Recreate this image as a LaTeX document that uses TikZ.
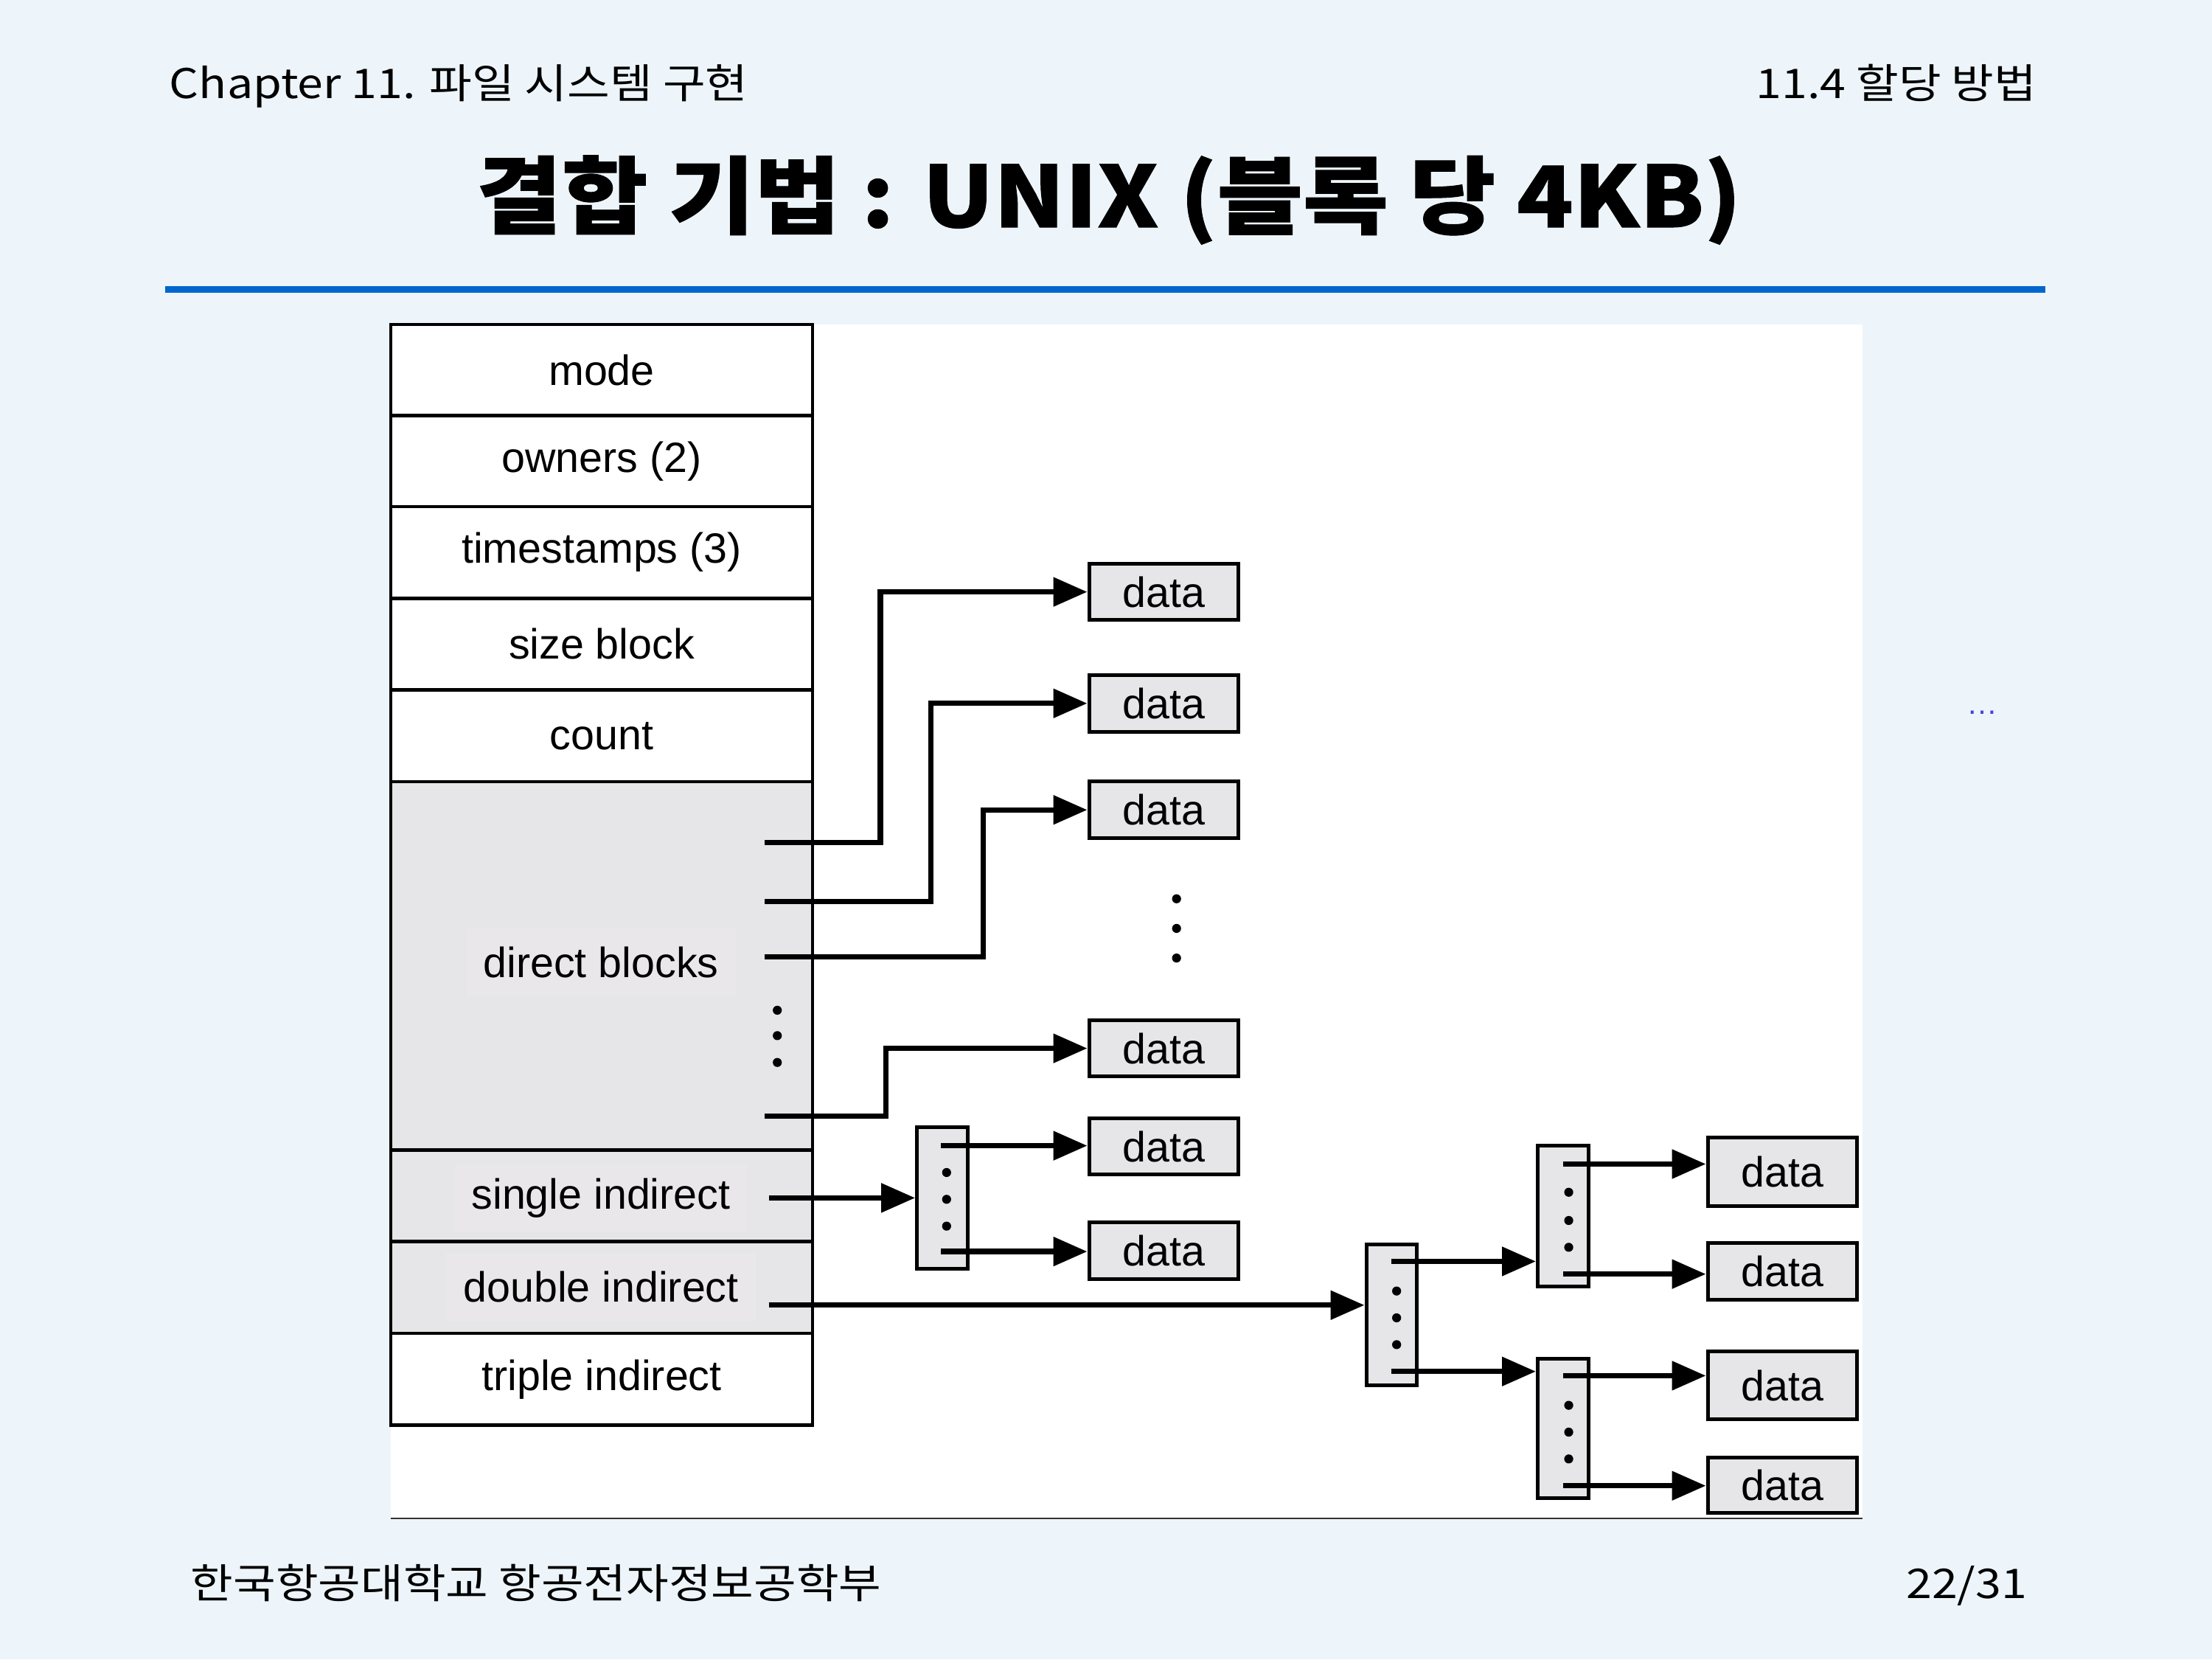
\documentclass[tikz,border=0pt]{standalone}
\usepackage{fontspec}
\setmainfont{Liberation Sans}
\newfontfamily\krfont[FakeStretch=1.13]{Noto Sans CJK KR}
\newfontfamily\krtitle[FakeStretch=1.1,BoldFeatures={FakeBold=0.8}]{Noto Sans CJK KR}
\usetikzlibrary{arrows.meta}
\definecolor{slidebg}{HTML}{EDF5FA}
\definecolor{rulebl}{HTML}{0066CC}
\definecolor{blkgrey}{HTML}{E6E5E7}
\definecolor{lblgrey}{HTML}{EAE7EA}
\definecolor{dotblue}{HTML}{4444DD}

\begin{document}
\begin{tikzpicture}[x=1pt,y=-1pt]
  \tikzstyle{field} = [rectangle, minimum width=299pt, minimum height=65pt, inner sep=0pt, text centered, draw=black, line width=2.4pt, fill=white, font=\fontsize{30}{36}\selectfont]
  \tikzstyle{lbl} = [rectangle, inner xsep=12pt, minimum height=48pt, fill=lblgrey, font=\fontsize{30}{36}\selectfont]
  \tikzstyle{datablk} = [rectangle, minimum width=106pt, minimum height=40pt, inner sep=0pt, draw=black, line width=2.6pt, fill=blkgrey, font=\fontsize{30}{36}\selectfont]
  \tikzstyle{idxblk} = [rectangle, minimum width=36pt, minimum height=100pt, inner sep=0pt, draw=black, line width=2.6pt, fill=blkgrey]
  \tikzstyle{ptr} = [line width=3.8pt, -{Triangle[length=24pt,width=20pt]}]
  \tikzstyle{hdr} = [inner sep=0pt, font=\krfont\fontsize{29}{34}\selectfont]

  \useasboundingbox (0,0) rectangle (1568,1176);
  \fill[slidebg] (0,0) rectangle (1568,1176);

  % slide header and footer
  \node[hdr, anchor=base west] (chap) at (120,70) {Chapter 11. 파일 시스템 구현};
  \node[hdr, anchor=base east] (sect) at (1444,70) {11.4 할당 방법};
  \node[inner sep=0pt, anchor=base, font=\krtitle\bfseries\fontsize{60}{70}\selectfont] (title) at (786,161) {결합 기법 : UNIX (블록 당 4KB)};
  \draw[rulebl, line width=4.5pt] (117,205) -- (1450,205);
  \node[hdr, anchor=base west] (school) at (135,1133) {한국항공대학교 항공전자정보공학부};
  \node[hdr, anchor=base east] (page) at (1437,1133) {22/31};
  \node[text=dotblue, inner sep=0pt, font=\fontsize{22}{26}\selectfont] (more) at (1405,505) {…};

  % figure area
  \fill[white] (277,230) rectangle (1320,1076);
  \draw[line width=1.2pt, black!80] (277,1076) -- (1320,1076);

  % inode
  \node (mode) [field] at (426.5,262.5) {mode};
  \node (owners) [field] at (426.5,327) {owners (2)};
  \node (stamps) [field] at (426.5,391.5) {timestamps (3)};
  \node (size) [field] at (426.5,456.5) {size block};
  \node (count) [field] at (426.5,521.5) {count};
  \node (direct) [field, fill=blkgrey, minimum height=261pt] at (426.5,684.5) {};
  \node (single) [field, fill=blkgrey] at (426.5,847.5) {};
  \node (double) [field, fill=blkgrey] at (426.5,912.5) {};
  \node (triple) [field] at (426.5,977.5) {triple indirect};
  \node (directlbl) [lbl] at (426,682) {direct blocks};
  \node (singlelbl) [lbl] at (426,849) {single indirect};
  \node (doublelbl) [lbl] at (426,912) {double indirect};
  \foreach \y in {716,734,753} \fill (551,\y) circle (3.2pt);

  % data blocks
  \node (data1) [datablk] at (825,419.5) {data};
  \node (data2) [datablk] at (825,498.5) {data};
  \node (data3) [datablk] at (825,574) {data};
  \node (data4) [datablk] at (825,743) {data};
  \node (data5) [datablk] at (825,812.5) {data};
  \node (data6) [datablk] at (825,886.5) {data};
  \node (data7) [datablk, minimum height=49pt] at (1263.5,830.5) {data};
  \node (data8) [datablk] at (1263.5,901) {data};
  \node (data9) [datablk, minimum height=48pt] at (1263.5,982) {data};
  \node (data10) [datablk, minimum height=39pt] at (1263.5,1052.5) {data};
  \foreach \y in {637,658,679} \fill (834,\y) circle (3.2pt);

  % index blocks
  \node (sidx) [idxblk] at (668,849) {};
  \node (didx) [idxblk] at (986.5,932) {};
  \node (didxa) [idxblk] at (1108,862) {};
  \node (didxb) [idxblk, minimum height=99pt] at (1108,1012.5) {};
  \foreach \y in {831,850,869} \fill (671,\y) circle (3.2pt);
  \foreach \y in {915,934,953} \fill (990,\y) circle (3.2pt);
  \foreach \y in {845,865,884} \fill (1112,\y) circle (3.2pt);
  \foreach \y in {996,1015,1034} \fill (1112,\y) circle (3.2pt);

  % pointer ends
  \coordinate (p1) at (542,597);
  \coordinate (p2) at (542,639);
  \coordinate (p3) at (542,678);
  \coordinate (p4) at (542,791);
  \coordinate (ps) at (545,849);
  \coordinate (pd) at (545,925);
  \coordinate (s1) at (667,812);
  \coordinate (s2) at (667,887);
  \coordinate (a1) at (986,894);
  \coordinate (a2) at (986,972);
  \coordinate (b1) at (1108,825);
  \coordinate (b2) at (1108,903);
  \coordinate (c1) at (1108,975);
  \coordinate (c2) at (1108,1053);

  \draw[ptr] (p1) -- ++(82,0) |- (data1.west);
  \draw[ptr] (p2) -- ++(118,0) |- (data2.west);
  \draw[ptr] (p3) -- ++(155,0) |- (data3.west);
  \draw[ptr] (p4) -- ++(86,0) |- (data4.west);
  \draw[ptr] (ps) -- (ps -| sidx.west);
  \draw[ptr] (s1) -- (s1 -| data5.west);
  \draw[ptr] (s2) -- (s2 -| data6.west);
  \draw[ptr] (pd) -- (pd -| didx.west);
  \draw[ptr] (a1) -- (a1 -| didxa.west);
  \draw[ptr] (a2) -- (a2 -| didxb.west);
  \draw[ptr] (b1) -- (b1 -| data7.west);
  \draw[ptr] (b2) -- (b2 -| data8.west);
  \draw[ptr] (c1) -- (c1 -| data9.west);
  \draw[ptr] (c2) -- (c2 -| data10.west);
\end{tikzpicture}
\end{document}
